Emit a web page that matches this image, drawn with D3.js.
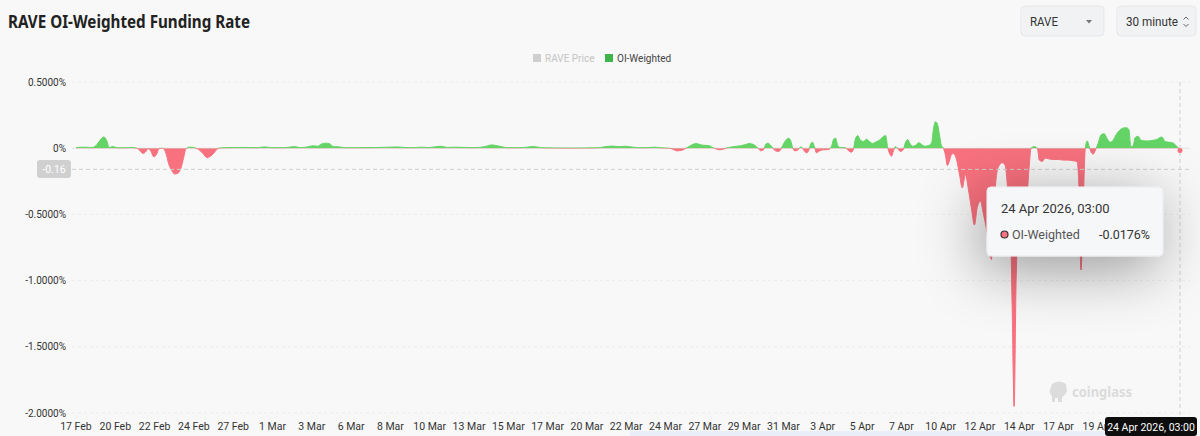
<!DOCTYPE html>
<html><head><meta charset="utf-8">
<script src="https://cdn.jsdelivr.net/npm/d3@7/dist/d3.min.js"></script>
<style>
html,body{margin:0;padding:0;background:#f8f8f8;}
svg{display:block;font-family:Roboto,"Noto Sans",sans-serif;}
</style></head><body>
<svg id="c" width="1200" height="436"></svg>
<script>
// ---- data ----
const xLabels = ["17 Feb","20 Feb","22 Feb","24 Feb","27 Feb","1 Mar","3 Mar","6 Mar","8 Mar","10 Mar","13 Mar","15 Mar","17 Mar","20 Mar","22 Mar","24 Mar","27 Mar","29 Mar","31 Mar","3 Apr","5 Apr","7 Apr","10 Apr","12 Apr","14 Apr","17 Apr","19 Apr"];
const yTicks = [0.5, 0, -0.5, -1.0, -1.5, -2.0];
// position along the time axis (in label-interval units)
const pos = [0,0.23,0.41,0.51,0.61,0.71,0.79,0.84,0.94,1.04,1.24,1.42,1.55,1.63,1.70,1.78,1.83,1.90,1.98,2.06,2.11,2.21,2.29,2.36,2.44,2.51,2.59,2.67,2.74,2.79,2.87,2.97,3.05,3.12,3.23,3.33,3.40,3.50,3.58,3.63,3.78,4.04,4.29,
4.42,4.62,4.80,4.98,5.31,5.56,5.71,5.89,6.02,6.15,6.25,6.35,6.45,6.55,6.70,6.86,7.21,7.59,7.97,8.18,8.38,8.58,8.79,8.99,9.27,9.45,9.65,9.88,10.08,10.26,10.44,10.57,10.69,
10.82,10.97,11.28,11.48,11.61,11.76,11.91,12.17,12.55,12.93,13.26,13.43,13.64,13.82,13.97,14.12,14.32,14.53,14.73,14.88,15.09,15.19,15.29,15.42,15.52,15.64,15.77,15.87,15.97,16.10,16.20,16.28,16.36,16.46,16.56,16.69,16.81,16.94,17.04,17.12,17.22,17.32,
17.37,17.42,17.50,17.55,17.60,17.68,17.73,17.80,17.88,17.93,17.98,18.06,18.13,18.18,18.24,18.29,18.36,18.44,18.49,18.54,18.59,18.64,18.69,18.74,18.79,18.84,18.92,19.02,19.15,19.23,19.28,19.33,19.38,19.45,19.58,19.66,19.73,19.78,19.83,19.89,19.96,20.04,20.11,20.19,20.27,20.34,20.44,20.55,20.60,20.65,20.70,20.75,20.80,20.85,20.90,20.98,21.05,21.10,21.16,21.21,21.28,21.36,21.44,21.51,21.59,21.69,21.77,21.82,21.87,21.92,21.97,22.02,22.07,
22.12,22.17,22.22,22.27,22.32,22.40,22.48,22.55,22.63,22.70,22.78,22.86,22.93,23.01,23.09,23.16,23.24,23.29,23.34,23.39,23.47,23.57,23.64,23.72,23.77,23.82,23.87,23.92,23.97,24.05,24.13,24.20,24.25,24.30,24.38,24.46,24.51,24.58,24.66,24.74,24.86,24.99,25.12,25.24,25.37,25.47,25.52,25.57,25.63,25.68,
25.73,25.78,25.83,25.88,25.93,26.01,26.08,26.16,26.24,26.31,26.39,26.46,26.54,26.62,26.72,26.79,26.84,26.90,26.95,27.02,27.10,27.20,27.30,27.40,27.50,27.58,27.63,27.71,27.81,27.91,27.99,28.09];
// OI-weighted funding rate (%)
const rate = [0.005,0.008,0.005,0.02,0.06,0.085,0.05,0.005,0.012,0.004,0.003,0.006,0,-0.02,-0.04,-0.025,-0.003,-0.02,-0.065,-0.04,-0.002,0,-0.04,-0.12,-0.17,-0.195,-0.19,-0.15,-0.07,-0.01,0.008,0.007,0,-0.01,-0.04,-0.07,-0.065,-0.04,-0.01,0,0.004,0.005,0.006,
0.005,0.004,0.01,0.004,0.004,0.012,0.004,0.01,0.018,0.015,0.032,0.038,0.034,0.012,0.01,0.004,0.004,0.005,0.008,0.01,0.005,0.004,0.008,0.005,0.015,0.006,0.008,0.006,0.004,0.006,0.015,0.025,0.02,
0.012,0.004,0.004,0.008,0.013,0.008,0.003,0.002,0.001,0.002,0.003,0.01,0.016,0.012,0.015,0.01,0.004,0.004,0.008,0.003,0,-0.008,-0.02,-0.015,0,0.02,0.035,0.028,0.022,0.02,0.005,-0.005,-0.012,-0.008,0.002,0.01,0.015,0.02,0.028,0.035,0.03,0.01,
-0.005,-0.02,-0.01,0.03,0.038,0.02,0,-0.02,-0.025,-0.01,0.02,0.06,0.075,0.06,0,-0.02,-0.015,0.01,0,-0.025,-0.035,-0.02,0.03,0.045,0.01,-0.035,-0.02,-0.012,-0.01,0.02,0.07,0.075,0.02,0.005,0.003,-0.02,-0.03,-0.01,0.07,0.095,0.06,0.05,0.068,0.05,0.035,0.045,0.06,0.09,0.095,0.01,-0.04,-0.06,-0.02,0.012,0,-0.025,-0.01,0.04,0.065,0.04,0.015,0.02,0.042,0.03,0.015,0.02,0.04,0.15,0.2,0.18,0.1,0.02,0,
-0.05,-0.13,-0.1,-0.05,-0.04,-0.08,-0.2,-0.3,-0.2,-0.3,-0.45,-0.58,-0.45,-0.4,-0.5,-0.6,-0.75,-0.84,-0.6,-0.3,-0.14,-0.11,-0.13,-0.35,-0.5,-1.2,-1.95,-1.0,-0.6,-0.5,-0.45,-0.35,-0.15,0,0.012,0,-0.09,-0.1,-0.075,-0.08,-0.085,-0.085,-0.09,-0.09,-0.095,-0.1,-0.3,-0.92,-0.4,0,
0.055,0.01,-0.03,-0.045,-0.02,0.04,0.1,0.11,0.07,0.045,0.06,0.1,0.13,0.15,0.155,0.14,0.01,0.02,0.08,0.09,0.06,0.055,0.055,0.06,0.065,0.08,0.085,0.05,0.045,0.04,0.02,-0.0176];
const crossValue = -0.16;
const tooltipDate = "24 Apr 2026, 03:00";

// ---- layout ----
const svg = d3.select("#c");
const green = "#63d465", red = "#f8717e";
const x = d3.scaleLinear().domain([0, 28.09]).range([76, 1180]);
const y = d3.scaleLinear().domain([-2, 0.5]).range([413, 82]);
const data = pos.map((p,i)=>({p, v: rate[i]}));

const defs = svg.append("defs");
const f = defs.append("filter").attr("id","sh").attr("x","-80%").attr("y","-120%").attr("width","260%").attr("height","340%");
f.append("feDropShadow").attr("dx",-6).attr("dy",12).attr("stdDeviation",30).attr("flood-color","#000").attr("flood-opacity",0.4);
defs.append("clipPath").attr("id","up").append("rect").attr("x",0).attr("y",0).attr("width",1200).attr("height",y(0));
defs.append("clipPath").attr("id","dn").append("rect").attr("x",0).attr("y",y(0)).attr("width",1200).attr("height",436-y(0));

// title
svg.append("text").attr("x",8).attr("y",28).attr("font-family","'Noto Sans',sans-serif").attr("font-weight",700).attr("font-size",17)
  .attr("textLength",242).attr("lengthAdjust","spacingAndGlyphs").attr("fill","#222").text("RAVE OI-Weighted Funding Rate");

// controls
function ctrl(x0,w,label,tl){
  const g = svg.append("g");
  g.append("rect").attr("x",x0).attr("y",6).attr("width",w).attr("height",30).attr("rx",4).attr("fill","#f1f2f4").attr("stroke","#e6e7ea");
  g.append("text").attr("x",x0+9).attr("y",25.5).attr("font-size",12.5).attr("textLength",tl).attr("lengthAdjust","spacingAndGlyphs").attr("fill","#333").text(label);
  return g;
}
const c1 = ctrl(1021,83,"RAVE",28);
c1.append("path").attr("d","M1086,20 l6,0 l-3,3.5z").attr("fill","#777");
const c2 = ctrl(1117,79,"30 minute",52);
c2.append("path").attr("d","M1183.5,19.5 l2.5,-2.5 l2.5,2.5 M1183.5,24 l2.5,2.5 l2.5,-2.5").attr("fill","none").attr("stroke","#666").attr("stroke-width",1);

// legend
svg.append("rect").attr("x",533).attr("y",54).attr("width",8).attr("height",8).attr("fill","#cfcfcf");
svg.append("text").attr("x",545).attr("y",61.5).attr("font-size",10).attr("fill","#c4c4c4").text("RAVE Price");
svg.append("rect").attr("x",605).attr("y",54).attr("width",8).attr("height",8).attr("fill","#3cb54a");
svg.append("text").attr("x",617).attr("y",61.5).attr("font-size",10).attr("fill","#444").text("OI-Weighted");

// grid
svg.append("g").selectAll("line").data(yTicks).join("line")
  .attr("x1",72).attr("x2",1190).attr("y1",d=>y(d)).attr("y2",d=>y(d))
  .attr("stroke",d=>d===0?"#e2e2e2":"#ececec").attr("stroke-dasharray",d=>d===0?null:"3,3");

// y axis labels
svg.append("g").selectAll("text").data(yTicks).join("text")
  .attr("x",66).attr("y",d=>y(d)+3.5).attr("text-anchor","end").attr("font-size",10).attr("fill","#333")
  .text(d=>d===0?"0%":d.toFixed(4)+"%");

// x axis labels
svg.append("g").selectAll("text").data(xLabels).join("text")
  .attr("x",(d,i)=>x(i)).attr("y",430).attr("text-anchor","middle").attr("font-size",10.5).attr("fill","#333")
  .text(d=>d);

// bottom slider band
svg.append("rect").attr("x",630).attr("y",431).attr("width",560).attr("height",5).attr("fill","#e9eef8");

// areas
const area = d3.area().x(d=>x(d.p)).y0(y(0)).y1(d=>y(d.v)).curve(d3.curveMonotoneX);
const line = d3.line().x(d=>x(d.p)).y(d=>y(d.v)).curve(d3.curveMonotoneX);
svg.append("path").datum(data).attr("d",area).attr("fill",green).attr("clip-path","url(#up)");
svg.append("path").datum(data).attr("d",area).attr("fill",red).attr("clip-path","url(#dn)");
svg.append("path").datum(data).attr("d",line).attr("fill","none").attr("stroke",green).attr("stroke-width",1).attr("clip-path","url(#up)");
svg.append("path").datum(data).attr("d",line).attr("fill","none").attr("stroke",red).attr("stroke-width",1).attr("clip-path","url(#dn)");

// watermark
const wm = svg.append("g").attr("fill","#dcdcdc");
wm.append("path").attr("d","M1052,384 q7,-5 14,0 l1,7 q-2,5 -5,6 l0,5 l-4,0 l0,-4 l-3,0 l0,4 l-3,0 l0,-6 q-3,-3 -2,-6z");
wm.append("text").attr("x",1072).attr("y",397).attr("font-size",14.5).attr("font-weight",700).attr("textLength",60).attr("lengthAdjust","spacingAndGlyphs").attr("font-family","'Noto Sans',sans-serif").text("coinglass");

// crosshair
const last = data[data.length-1];
svg.append("line").attr("x1",72).attr("x2",1190).attr("y1",y(crossValue)).attr("y2",y(crossValue)).attr("stroke","#cfcfcf").attr("stroke-dasharray","4,3");
svg.append("line").attr("x1",x(last.p)).attr("x2",x(last.p)).attr("y1",82).attr("y2",415).attr("stroke","#cfcfcf").attr("stroke-dasharray","4,3");
svg.append("circle").attr("cx",x(last.p)).attr("cy",y(last.v)).attr("r",2.5).attr("fill",red);

// y pointer label
svg.append("rect").attr("x",37).attr("y",160).attr("width",34).attr("height",18).attr("rx",3).attr("fill","#d0d0d0");
svg.append("text").attr("x",54).attr("y",172.5).attr("text-anchor","middle").attr("font-size",10.5).attr("fill","#fff").text(crossValue.toFixed(2));

// x pointer label
svg.append("rect").attr("x",1105).attr("y",417).attr("width",92).attr("height",19).attr("rx",3).attr("fill","#0d0d0d");
svg.append("text").attr("x",1151).attr("y",430.5).attr("text-anchor","middle").attr("font-size",10.5).attr("fill","#fff").text(tooltipDate);

// tooltip
const tt = svg.append("g");
tt.append("rect").attr("x",987).attr("y",187).attr("width",176).attr("height",69).attr("rx",4).attr("fill","#f6f7f9").attr("stroke","#e8e9ec").attr("filter","url(#sh)");
tt.append("text").attr("x",1001).attr("y",213).attr("font-size",13).attr("fill","#333").text(tooltipDate);
tt.append("circle").attr("cx",1004.5).attr("cy",234.5).attr("r",3.5).attr("fill",red).attr("stroke","#333").attr("stroke-width",1.2);
tt.append("text").attr("x",1012).attr("y",239).attr("font-size",12.5).attr("fill","#555").text("OI-Weighted");
tt.append("text").attr("x",1150).attr("y",239).attr("text-anchor","end").attr("font-size",12.5).attr("fill","#333").text(last.v.toFixed(4)+"%");
</script>
</body></html>
